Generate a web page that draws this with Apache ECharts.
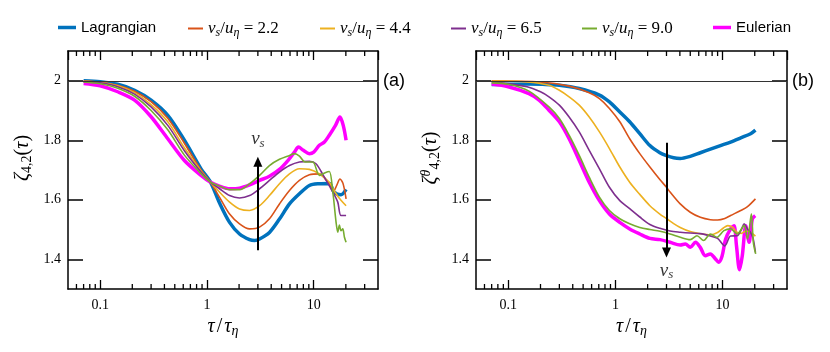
<!DOCTYPE html>
<html><head><meta charset="utf-8">
<script src="https://cdn.jsdelivr.net/npm/echarts@6/dist/echarts.min.js"></script>
<style>html,body{margin:0;padding:0;background:#fff}#c{width:830px;height:352px}</style>
</head><body><div id="c"></div>
<script>
// ---------- axis ranges & ticks ----------
const X_MIN = 0.05, X_MAX = 40, Y_MIN = 1.3, Y_MAX = 2.1;
const xMinorTicks = [0.06,0.07,0.08,0.09,0.2,0.3,0.4,0.5,0.6,0.7,0.8,0.9,2,3,4,5,6,7,8,9,20,30];
const yTicks = [1.4, 1.6, 1.8, 2];
const refLine = 2;

// ---------- series names ----------
const seriesNames = ['Lagrangian','v_s/u_η = 2.2','v_s/u_η = 4.4','v_s/u_η = 6.5','v_s/u_η = 9.0','Eulerian'];

// ---------- panel (a): zeta_{4,2}(tau) ----------
const lagA = [[0.07,2.0],[0.1,1.997],[0.146,1.988],[0.21,1.968],[0.3,1.935],[0.43,1.884],[0.615,1.80],[0.88,1.704],[1.08,1.659],[1.31,1.59],[1.63,1.524],[2.02,1.485],[2.51,1.466],[2.8,1.463],[3.11,1.468],[3.85,1.49],[4.78,1.535],[5.93,1.586],[7.35,1.62],[9.11,1.648],[11.3,1.654],[14.0,1.655],[15.5,1.626],[18.0,1.617],[20.1,1.635]];
const v22A = [[0.07,1.999],[0.1,1.995],[0.146,1.985],[0.21,1.965],[0.3,1.93],[0.43,1.874],[0.615,1.79],[0.88,1.70],[1.08,1.659],[1.31,1.609],[1.63,1.552],[2.02,1.519],[2.51,1.502],[3.11,1.508],[3.85,1.536],[4.78,1.586],[5.93,1.631],[7.35,1.665],[9.11,1.684],[11.3,1.687],[12.8,1.67],[14.5,1.645],[15.3,1.628],[16.5,1.65],[17.6,1.67],[18.8,1.655],[20.1,1.603]];
const v44A = [[0.07,1.998],[0.1,1.994],[0.146,1.983],[0.21,1.96],[0.3,1.92],[0.43,1.862],[0.615,1.775],[0.88,1.697],[1.08,1.659],[1.31,1.626],[1.63,1.592],[2.02,1.569],[2.51,1.564],[3.11,1.58],[3.85,1.614],[4.78,1.654],[5.93,1.687],[7.35,1.704],[9.11,1.702],[11.3,1.687],[14.0,1.659],[15.8,1.626],[18.0,1.598],[20.1,1.58]];
const v65A = [[0.07,1.997],[0.1,1.993],[0.146,1.98],[0.21,1.955],[0.3,1.912],[0.43,1.85],[0.615,1.765],[0.88,1.693],[1.08,1.659],[1.31,1.637],[1.63,1.614],[2.02,1.606],[2.51,1.614],[3.11,1.637],[3.85,1.665],[4.78,1.693],[5.93,1.715],[7.35,1.727],[9.11,1.729],[10.5,1.721],[12.3,1.682],[15.1,1.626],[16.8,1.592],[18.0,1.547],[20.1,1.547]];
const v90A = [[0.07,1.996],[0.1,1.99],[0.146,1.975],[0.21,1.948],[0.3,1.90],[0.43,1.835],[0.615,1.75],[0.88,1.688],[1.08,1.659],[1.31,1.646],[1.63,1.634],[2.02,1.634],[2.51,1.654],[3.11,1.682],[3.85,1.715],[4.78,1.736],[5.93,1.749],[6.6,1.755],[7.35,1.747],[8.3,1.727],[9.8,1.727],[11.3,1.682],[12.8,1.691],[14.0,1.695],[15.1,1.626],[16.2,1.524],[16.8,1.491],[17.4,1.515],[18.0,1.496],[18.7,1.502],[19.4,1.474],[20.1,1.457]];
const eulA = [[0.07,1.991],[0.1,1.983],[0.146,1.963],[0.21,1.935],[0.3,1.879],[0.43,1.805],[0.615,1.732],[0.88,1.682],[1.08,1.659],[1.31,1.646],[1.63,1.637],[2.02,1.639],[2.51,1.65],[3.11,1.665],[3.85,1.679],[4.78,1.702],[5.93,1.738],[6.6,1.76],[7.2,1.777],[8.0,1.766],[9.1,1.755],[10.0,1.76],[11.3,1.783],[12.6,1.794],[14.0,1.817],[16.0,1.85],[17.6,1.878],[18.9,1.85],[20.1,1.80]];

// ---------- panel (b): zeta^theta_{4,2}(tau) ----------
const lagB = [[0.07,1.987],[0.1,1.988],[0.15,1.989],[0.21,1.988],[0.3,1.985],[0.46,1.974],[0.71,1.952],[0.88,1.929],[1.1,1.895],[1.36,1.862],[1.69,1.822],[2.1,1.782],[2.6,1.758],[3.0,1.748],[3.5,1.741],[4.03,1.739],[5.0,1.746],[6.21,1.758],[7.71,1.77],[9.57,1.782],[11.9,1.794],[14.8,1.808],[18.3,1.822],[20.3,1.834]];
const v22B = [[0.07,2.0],[0.2,1.996],[0.37,1.982],[0.57,1.96],[0.71,1.94],[0.88,1.907],[1.1,1.862],[1.36,1.805],[1.69,1.755],[2.1,1.71],[2.6,1.668],[3.0,1.642],[3.24,1.626],[4.03,1.586],[5.0,1.558],[6.21,1.541],[7.71,1.533],[9.0,1.532],[10.5,1.537],[11.9,1.547],[14.8,1.564],[17.0,1.576],[20.3,1.603]];
const v44B = [[0.07,1.999],[0.15,1.996],[0.24,1.985],[0.3,1.968],[0.37,1.946],[0.46,1.918],[0.57,1.878],[0.71,1.828],[0.88,1.772],[1.1,1.71],[1.36,1.659],[1.69,1.618],[2.1,1.58],[2.6,1.552],[3.0,1.537],[3.5,1.52],[4.03,1.507],[5.0,1.493],[6.21,1.486],[7.71,1.482],[9.0,1.49],[10.2,1.505],[11.2,1.513],[12.5,1.507],[13.5,1.492],[15.0,1.487],[16.5,1.495],[18.3,1.49],[20.3,1.478]];
const v65B = [[0.07,1.997],[0.15,1.98],[0.2,1.963],[0.24,1.946],[0.3,1.918],[0.37,1.878],[0.46,1.828],[0.57,1.766],[0.71,1.704],[0.88,1.642],[1.1,1.597],[1.36,1.57],[1.69,1.542],[2.1,1.517],[2.6,1.504],[3.24,1.495],[4.03,1.491],[5.0,1.488],[6.21,1.486],[7.71,1.478],[9.0,1.47],[10.5,1.445],[11.9,1.478],[13.7,1.479],[15.0,1.5],[15.9,1.519],[17.1,1.502],[18.3,1.49],[19.3,1.47],[20.3,1.423]];
const v90B = [[0.07,1.993],[0.1,1.988],[0.156,1.965],[0.24,1.912],[0.3,1.873],[0.37,1.817],[0.46,1.749],[0.57,1.676],[0.71,1.609],[0.88,1.564],[1.1,1.536],[1.36,1.519],[1.69,1.507],[2.1,1.5],[2.61,1.494],[3.24,1.485],[4.03,1.474],[5.0,1.466],[5.78,1.479],[6.67,1.463],[7.71,1.485],[8.9,1.474],[10.3,1.496],[11.9,1.502],[13.7,1.485],[15.9,1.513],[17.1,1.468],[18.6,1.553],[19.4,1.457],[20.4,1.418]];
const eulB = [[0.07,1.989],[0.1,1.98],[0.156,1.957],[0.194,1.935],[0.24,1.901],[0.3,1.862],[0.37,1.805],[0.46,1.732],[0.57,1.659],[0.71,1.597],[0.88,1.552],[1.1,1.524],[1.36,1.502],[1.69,1.485],[2.1,1.47],[2.61,1.466],[3.24,1.457],[4.03,1.448],[4.5,1.451],[5.0,1.44],[5.6,1.457],[6.2,1.44],[6.9,1.412],[7.7,1.418],[8.6,1.401],[9.2,1.39],[9.9,1.41],[10.7,1.468],[11.9,1.502],[12.8,1.513],[13.5,1.446],[14.4,1.365],[15.3,1.412],[16.5,1.513],[17.7,1.457],[19.0,1.536],[20.2,1.547]];

// ---------- annotations (data coords) ----------
const arrowA = [[3, 1.43], [3, 1.728]];
const arrowB = [[3, 1.792], [3, 1.423]];
const vsLabelA = [3, 1.805];
const vsLabelB = [3, 1.362];

// ---------- styling ----------
const colors = ['#0072BD','#D95319','#EDB120','#7E2F8E','#77AC30','#FF00FF'];
const widths = [3.5, 1.6, 1.6, 1.6, 1.6, 3.5];
const legendLeft = [58, 188, 320, 451, 582, 713];
const SERIF = 'Liberation Serif', SANS = 'Liberation Sans';

function mkRich(big, small) {
  return {
    s:   {fontFamily: SANS, fontSize: 15, color: '#000', lineHeight: 20},
    i:   {fontFamily: SERIF, fontStyle: 'italic', fontSize: big, color: '#000', lineHeight: big + 3},
    n:   {fontFamily: SERIF, fontSize: big, color: '#000', lineHeight: big + 3},
    sl:  {fontFamily: SERIF, fontSize: big, color: '#000', lineHeight: big + 3, padding: [0, 2, 0, 2]},
    sub: {fontFamily: SERIF, fontStyle: 'italic', fontSize: small, color: '#000', verticalAlign: 'bottom', lineHeight: small},
    subn:{fontFamily: SERIF, fontSize: small, color: '#000', verticalAlign: 'bottom', lineHeight: small},
    sup: {fontFamily: SERIF, fontStyle: 'italic', fontSize: small, color: '#000', verticalAlign: 'top', lineHeight: small}
  };
}
const richLegend = mkRich(17, 12);
const richAxis = mkRich(20, 14);

function legendText(name) {
  if (name.indexOf('v_s') === 0) {
    const val = name.split('=')[1].trim();
    return '{i|v}{sub|s}{n|/}{i|u}{sub|η}{n| = ' + val + '}';
  }
  return '{s|' + name + '}';
}

const panelData = [[lagA, v22A, v44A, v65A, v90A, eulA], [lagB, v22B, v44B, v65B, v90B, eulB]];
const yNames = ['{i|ζ}{subn|4,2}{n|(}{i|τ}{n|)}', '{i|ζ}{sup|θ}{subn|4,2}{n|(}{i|τ}{n|)}'];
const arrows = [arrowA, arrowB];
const vsLabels = [vsLabelA, vsLabelB];

const grids = [
  {left: 68, right: 452, top: 51, bottom: 63},
  {left: 476, right: 43, top: 51, bottom: 63}
];

const xAxes = [], yAxes = [], series = [];
grids.forEach((g, gi) => {
  const axLine = {show: true, onZero: false, symbol: ['none', 'none'], lineStyle: {color: '#000', width: 1.5}};
  xAxes.push({
    type: 'log', logBase: 10, gridIndex: gi, min: X_MIN, max: X_MAX, position: 'bottom',
    axisLine: axLine,
    axisTick: {inside: true, length: 9, lineStyle: {color: '#000', width: 1.3}},
    axisLabel: {showMinLabel: false, showMaxLabel: false, color: '#000', fontFamily: SERIF, fontSize: 14, margin: 9,
      formatter: v => String(+(+v).toPrecision(3))},
    splitLine: {show: false},
    name: '{i|τ}{sl|/}{i|τ}{sub|η}', nameLocation: 'middle', nameGap: 25,
    nameTextStyle: {rich: richAxis}
  });
  xAxes.push({
    type: 'log', logBase: 10, gridIndex: gi, min: X_MIN, max: X_MAX, position: 'top',
    axisLine: axLine,
    axisTick: {inside: true, length: 9, lineStyle: {color: '#000', width: 1.3}},
    axisLabel: {show: false}, splitLine: {show: false}
  });
  yAxes.push({
    type: 'value', gridIndex: gi, min: Y_MIN, max: Y_MAX, position: 'left',
    axisLine: axLine,
    axisTick: {inside: true, length: 15, customValues: yTicks, lineStyle: {color: '#000', width: 1.5}},
    axisLabel: {customValues: yTicks, color: '#000', fontFamily: SERIF, fontSize: 14, margin: 7,
      formatter: v => (Math.abs(v - 2) < 1e-9 ? '2' : (+v).toFixed(1))},
    splitLine: {show: false},
    name: yNames[gi], nameLocation: 'middle', nameGap: 34, nameRotate: 90,
    nameTextStyle: {rich: richAxis, padding: [0, 0, 0, 24]}
  });
  yAxes.push({
    type: 'value', gridIndex: gi, min: Y_MIN, max: Y_MAX, position: 'right',
    axisLine: axLine,
    axisTick: {inside: true, length: 15, customValues: yTicks, lineStyle: {color: '#000', width: 1.5}},
    axisLabel: {show: false}, splitLine: {show: false}
  });

  const xi = gi * 2, yi = gi * 2;
  // reference line, arrow and v_s label
  series.push({
    type: 'scatter', name: 'annot' + gi, xAxisIndex: xi, yAxisIndex: yi, silent: true,
    data: [vsLabels[gi]], symbolSize: 0, z: 5,
    label: {show: true, position: 'inside', formatter: '{i|v}{sub|s}', rich: mkRich(19, 13)},
    markLine: {
      silent: true, animation: false, label: {show: false}, symbol: ['none', 'none'],
      data: [
        {yAxis: refLine, lineStyle: {color: '#333', width: 1, type: 'solid'}},
        [
          {coord: arrows[gi][0], symbol: 'none', lineStyle: {color: '#000', width: 2, type: 'solid'}},
          {coord: arrows[gi][1], symbol: 'triangle', symbolSize: [9, 10]}
        ]
      ]
    }
  });
  // minor log ticks (bottom & top)
  series.push({
    type: 'custom', name: 'minor' + gi, xAxisIndex: xi, yAxisIndex: yi, silent: true, z: 10,
    data: xMinorTicks.map(v => [v, Y_MIN]),
    renderItem: (params, api) => {
      const x = api.value(0);
      const b = api.coord([x, Y_MIN]);
      const t = api.coord([x, Y_MAX]);
      const st = {stroke: '#000', lineWidth: 1.3};
      return {type: 'group', children: [
        {type: 'line', shape: {x1: b[0], y1: b[1], x2: b[0], y2: b[1] - 5}, style: st},
        {type: 'line', shape: {x1: t[0], y1: t[1], x2: t[0], y2: t[1] + 5}, style: st}
      ]};
    }
  });
  panelData[gi].forEach((d, si) => {
    series.push({
      type: 'line', name: seriesNames[si], xAxisIndex: xi, yAxisIndex: yi,
      data: d, showSymbol: false, symbol: 'none', smooth: 0.3,
      lineStyle: {color: colors[si], width: widths[si]}, itemStyle: {color: colors[si]},
      z: si === 0 || si === 5 ? 2 : 3
    });
  });
});

const legends = seriesNames.map((n, i) => ({
  data: [{name: n, icon: 'rect'}], left: legendLeft[i], top: 20, padding: 0, itemGap: 0,
  itemWidth: widths[i] > 2 ? 18 : 15, itemHeight: widths[i] > 2 ? 3.5 : 2, selectedMode: false,
  formatter: legendText, textStyle: {rich: richLegend}
}));

const chart = echarts.init(document.getElementById('c'), null, {renderer: 'canvas'});
chart.setOption({
  animation: false,
  backgroundColor: '#fff',
  title: [
    {text: '(a)', left: 383, top: 72, padding: 0, textStyle: {fontFamily: SANS, fontSize: 18, fontWeight: 'normal', color: '#000'}},
    {text: '(b)', left: 792, top: 72, padding: 0, textStyle: {fontFamily: SANS, fontSize: 18, fontWeight: 'normal', color: '#000'}}
  ],
  legend: legends,
  grid: grids,
  xAxis: xAxes,
  yAxis: yAxes,
  series: series
});
</script></body></html>
